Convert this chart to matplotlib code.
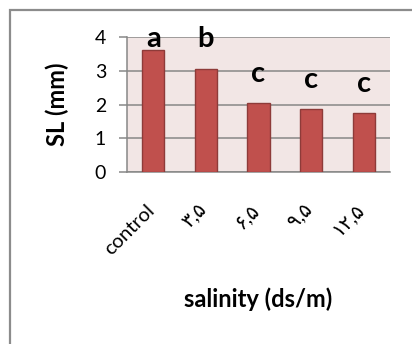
import matplotlib
matplotlib.use("Agg")
import matplotlib.pyplot as plt
import matplotlib.transforms as mtransforms
from matplotlib.patches import Rectangle

plt.rcParams['font.family'] = ['Lato', 'DejaVu Sans']

# --- DATA ---
categories = ['control', '۳,۵', '۶,۵', '۹,۵', '۱۲,۵']
sl_values = [3.62, 3.05, 2.05, 1.88, 1.76]
group_letters = ['a', 'b', 'c', 'c', 'c']
letter_heights = [3.70, 3.70, 2.67, 2.49, 2.38]
y_ticks = [0, 1, 2, 3, 4]

BAR_FACE = '#c0504d'
BAR_EDGE = '#8e3b39'
GRID_GRAY = '#878787'
PLOT_BG = '#f2e6e5'

W, H = 412, 344
fig = plt.figure(figsize=(W / 100, H / 100), dpi=100)
fig.patch.set_facecolor('white')

# chart frame (only left and top edges fall inside the canvas)
fig.patches.append(Rectangle((9.5 / W, -0.05), 1.2, 1 - 9.5 / H + 0.05,
                             transform=fig.transFigure, fill=False,
                             edgecolor='#8c8c8c', linewidth=1.6))

ax = fig.add_axes([127 / W, 1 - 172 / H, (390 - 127) / W, (172 - 37) / H])
ax.set_facecolor(PLOT_BG)

x = range(len(categories))
ax.bar(x, sl_values, width=0.42, color=BAR_FACE, edgecolor=BAR_EDGE,
       linewidth=1.0, zorder=3)

for xi, letter, h in zip(x, group_letters, letter_heights):
    ax.text(xi, h, letter, ha='center', va='baseline', fontsize=21,
            fontweight='bold', zorder=4)

ax.set_xlim(-0.5, len(categories) - 0.5)
ax.set_ylim(0, 4)
ax.set_yticks(y_ticks)
ax.yaxis.grid(True, color=GRID_GRAY, linewidth=1.1, zorder=1)
ax.set_axisbelow(True)

for side in ['top', 'right']:
    ax.spines[side].set_visible(False)
for side in ['left', 'bottom']:
    ax.spines[side].set_color(GRID_GRAY)
    ax.spines[side].set_linewidth(1.1)

ax.tick_params(axis='y', direction='out', length=6, width=1.1,
               color=GRID_GRAY, pad=9, labelsize=14)
ax.set_xticks(list(x))
ax.set_xticklabels(categories, rotation=45, ha='right', fontsize=14.5)
ax.tick_params(axis='x', length=0, pad=21)
shift = mtransforms.ScaledTranslation(3 / 72, 0, fig.dpi_scale_trans)
for lbl in ax.get_xticklabels():
    lbl.set_transform(lbl.get_transform() + shift)

fig.text(57 / W, 1 - 104.5 / H, 'SL (mm)', rotation=90, ha='center',
         va='center', fontsize=17, fontweight='bold')
fig.text(258 / W, 1 - 299 / H, 'salinity (ds/m)', ha='center',
         va='center', fontsize=17, fontweight='bold')

fig.savefig('out.png', dpi=100)
